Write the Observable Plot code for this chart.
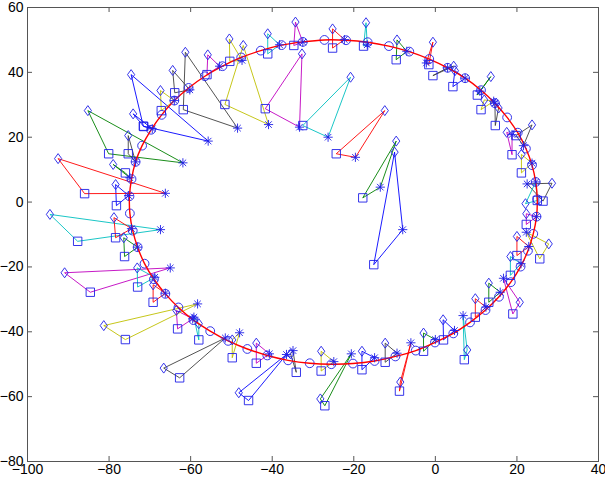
<!DOCTYPE html>
<html><head><meta charset="utf-8">
<script src="https://cdn.jsdelivr.net/npm/d3@7"></script>
<script src="https://cdn.jsdelivr.net/npm/@observablehq/plot@0.6"></script>
<style>body{margin:0;background:#fff} svg{display:block}</style>
</head><body><div id="chart"></div>
<script>
// circle markers (true track), centre (-25,0), r = 50
const circX = [24.99,24.6,23.7,22.2,20.2,17.6,14.6,11.2,7.3,3.0,-1.5,-6.4,-11.4,-16.6,-21.9,-27.2,-32.5,-37.7,-42.8,-47.6,-52.2,-56.5,-60.5,-64.0,-67.1,-69.7,-71.9,-73.5,-74.5,-75.0,-74.9,-74.2,-73.0,-71.3,-69.0,-66.2,-63.0,-59.3,-55.2,-50.8,-46.1,-41.2,-36.1,-30.8,-25.5,-20.2,-14.9,-9.8,-4.8,-0.1,4.4,8.5,12.3,15.6,18.5,20.9,22.7,24.0,24.8];
const circY = [0.87,6.2,11.4,16.5,21.4,26.1,30.5,34.5,38.2,41.4,44.1,46.4,48.1,49.3,49.9,50.0,49.4,48.4,46.7,44.6,41.9,38.8,35.2,31.3,26.9,22.3,17.4,12.4,7.1,1.8,-3.5,-8.8,-13.9,-19.0,-23.8,-28.3,-32.5,-36.4,-39.8,-42.8,-45.3,-47.3,-48.8,-49.7,-50.0,-49.8,-49.0,-47.6,-45.8,-43.3,-40.5,-37.1,-33.3,-29.2,-24.7,-19.9,-15.0,-9.8,-4.5];

// estimate triangles: asterisk, square, diamond
const triColor = ["k","k","y","b","m","y","y","c","m","m","c","r","c","r","g","g","b","r","k","b","g","y","k","m","k","y","k","c","m","y","r","c","m","g","r","c","b","g","r","k","b","g","y","k","b","m","y","k","c","m","y","r","m","c","g","c","r","b","r","g","g","k","b"];
const astX = [-48.5,-60.2,-64.0,-55.7,-52.9,-47.4,-40.9,-38.2,-32.5,-33.3,-26.3,-22.3,-16.7,-19.6,-7.0,-13.5,-8.0,-2.2,3.0,7.3,10.9,14.3,14.6,18.8,21.6,23.7,22.5,24.6,24.8,22.3,22.9,21.0,16.7,15.9,12.4,6.8,4.7,0.0,-6.0,-9.4,-14.9,-20.6,-24.9,-34.9,-36.5,-40.7,-48.0,-51.5,-59.2,-59.5,-58.3,-66.2,-65.0,-68.8,-73.0,-67.4,-74.5,-75.2,-66.2,-74.9,-61.9,-73.5,-69.4];
const astY = [22.8,34.6,31.3,18.8,41.9,43.7,23.9,48.5,49.3,23.1,20.0,50.1,48.5,13.8,46.5,4.6,-8.5,42.9,41.4,38.2,34.2,31.1,30.5,20.8,17.4,12.0,5.6,6.2,-4.5,-9.3,-13.7,-19.0,-23.5,-27.8,-32.4,-35.0,-39.6,-42.4,-43.4,-46.6,-48.0,-46.8,-49.2,-45.8,-47.0,-46.8,-40.3,-41.9,-35.5,-36.0,-31.4,-28.1,-20.3,-23.2,-13.9,-8.5,-8.2,2.0,2.7,7.5,12.1,12.4,22.6];
const sqX = [-61.8,-63.9,-67.2,-71.6,-56.0,-50.4,-51.6,-41.1,-34.7,-41.7,-32.5,-25.2,-17.6,-24.3,-9.6,-17.8,-15.1,-1.6,-0.6,4.3,10.3,11.2,14.7,18.8,19.8,21.1,26.4,25.0,22.3,25.6,20.0,18.4,19.0,13.1,9.8,7.1,2.0,-2.9,-8.8,-12.3,-18.0,-27.1,-28.0,-34.1,-45.8,-43.9,-49.8,-62.7,-58.0,-63.2,-76.0,-69.2,-84.6,-73.0,-76.2,-87.7,-78.4,-78.2,-86.0,-76.0,-80.1,-75.3,-71.5];
const sqY = [28.5,33.7,28.2,23.4,39.3,43.4,30.1,45.7,48.3,28.8,23.6,47.5,48.1,14.9,43.9,1.3,-19.3,42.4,39.0,35.6,33.0,28.5,23.6,14.6,20.5,9.0,0.3,0.5,-6.9,-17.5,-16.5,-22.6,-34.5,-30.9,-35.5,-48.6,-42.5,-46.0,-58.3,-49.4,-51.7,-62.8,-52.1,-52.5,-61.2,-49.7,-48.0,-54.2,-42.5,-39.1,-42.4,-30.9,-27.8,-26.2,-16.8,-12.1,-11.0,-1.1,2.6,9.0,14.9,14.9,23.3];
const diaX = [-61.3,-64.4,-67.4,-74.6,-55.8,-50.5,-47.1,-41.1,-34.3,-32.7,-20.8,-25.2,-17.0,-12.4,-9.4,-9.6,-10.0,-0.6,4.5,4.8,13.6,12.0,15.5,17.5,23.7,21.1,28.6,22.1,22.3,27.8,20.0,18.4,20.7,13.1,9.8,7.8,1.9,-2.9,-8.6,-12.3,-18.0,-28.2,-28.0,-35.5,-48.2,-43.9,-49.8,-66.6,-58.0,-63.5,-81.3,-69.2,-90.9,-73.1,-76.4,-94.5,-78.8,-78.4,-92.5,-79.0,-85.2,-75.3,-74.1];
const diaY = [46.2,40.6,34.4,39.3,45.4,50.3,48.3,51.9,55.5,45.7,38.5,53.4,55.3,28.2,50.0,18.8,15.4,49.3,41.9,40.5,38.7,31.5,29.0,21.5,23.8,14.7,5.8,-0.5,-3.6,-12.9,-10.6,-16.8,-30.9,-25.0,-29.8,-45.6,-36.3,-40.4,-55.5,-43.5,-46.0,-60.7,-46.0,-46.8,-58.8,-43.5,-42.5,-51.2,-37.5,-33.4,-38.1,-25.5,-21.8,-20.3,-11.0,-3.8,-4.8,5.4,13.4,11.6,28.2,20.5,27.2];

const xTicks = [-100,-80,-60,-40,-20,0,20,40];
const yTicks = [-80,-60,-40,-20,0,20,40,60];
const colorMap = {b:"#0000ff", g:"#008000", r:"#ff0000", c:"#00bfbf", m:"#bf00bf", y:"#bfbf00", k:"#404040"};

// tables built from the arrays
const circle = circX.map((x, i) => ({x, y: circY[i]}));
const tri = [];
triColor.forEach((c, i) => {
  const pts = [[astX[i], astY[i]], [sqX[i], sqY[i]], [diaX[i], diaY[i]], [astX[i], astY[i]]];
  pts.forEach(([x, y]) => tri.push({id: i, c: colorMap[c], x, y}));
});
const ast = astX.map((x, i) => ({x, y: astY[i]}));
const sq = sqX.map((x, i) => ({x, y: sqY[i]}));
const dia = diaX.map((x, i) => ({x, y: diaY[i]}));

// MATLAB-like marker glyphs
const sym = {
  circle: {draw(c){ c.moveTo(4.4,0); c.arc(0,0,4.4,0,2*Math.PI); }},
  square: {draw(c){ c.rect(-4.2,-4.2,8.4,8.4); }},
  diamond: {draw(c){ c.moveTo(0,-5); c.lineTo(3.6,0); c.lineTo(0,5); c.lineTo(-3.6,0); c.closePath(); }},
  star: {draw(c){ const r = 4.6; for (let k = 0; k < 4; k++){ const a = k*Math.PI/4; c.moveTo(r*Math.cos(a), r*Math.sin(a)); c.lineTo(-r*Math.cos(a), -r*Math.sin(a)); } }}
};
const mk = "#1f1fe8";
const ax = "#555";
const W = 605, H = 482, mL = 27, mR = 7, mT = 7, mB = 21;
const innerW = W - mL - mR, innerH = H - mT - mB, tk = 5;

const chart = Plot.plot({
  width: W, height: H,
  marginLeft: mL, marginRight: mR, marginTop: mT, marginBottom: mB,
  x: {domain: [-100, 40]},
  y: {domain: [-80, 60]},
  style: {fontSize: "14px", fontFamily: "Liberation Sans, Arial, sans-serif", color: "#000", background: "#fff"},
  marks: [
    Plot.line(tri, {x: "x", y: "y", z: "id", stroke: "c", strokeWidth: 0.9}),
    Plot.dot(circle, {x: "x", y: "y", symbol: sym.circle, stroke: mk, fill: "none", strokeWidth: 0.9}),
    Plot.line(circle, {x: "x", y: "y", curve: "catmull-rom-closed", stroke: "#ff0000", strokeWidth: 1.4}),
    Plot.dot(sq, {x: "x", y: "y", symbol: sym.square, stroke: mk, fill: "none", strokeWidth: 0.9}),
    Plot.dot(dia, {x: "x", y: "y", symbol: sym.diamond, stroke: mk, fill: "none", strokeWidth: 0.9}),
    Plot.dot(ast, {x: "x", y: "y", symbol: sym.star, stroke: mk, fill: "none", strokeWidth: 0.9}),
    // inward tick marks on all four sides
    Plot.ruleX(xTicks, {x: d => d, insetTop: innerH - tk, stroke: ax}),
    Plot.ruleX(xTicks, {x: d => d, insetBottom: innerH - tk, stroke: ax}),
    Plot.ruleY(yTicks, {y: d => d, insetRight: innerW - tk, stroke: ax}),
    Plot.ruleY(yTicks, {y: d => d, insetLeft: innerW - tk, stroke: ax}),
    Plot.frame({stroke: ax, strokeWidth: 1}),
    Plot.axisX({ticks: xTicks, anchor: "bottom", tickSize: 0, tickPadding: 3, label: null}),
    Plot.axisY({ticks: yTicks, anchor: "left", tickSize: 0, tickPadding: 4, label: null})
  ]
});
document.getElementById("chart").appendChild(chart);
</script>
</body></html>
